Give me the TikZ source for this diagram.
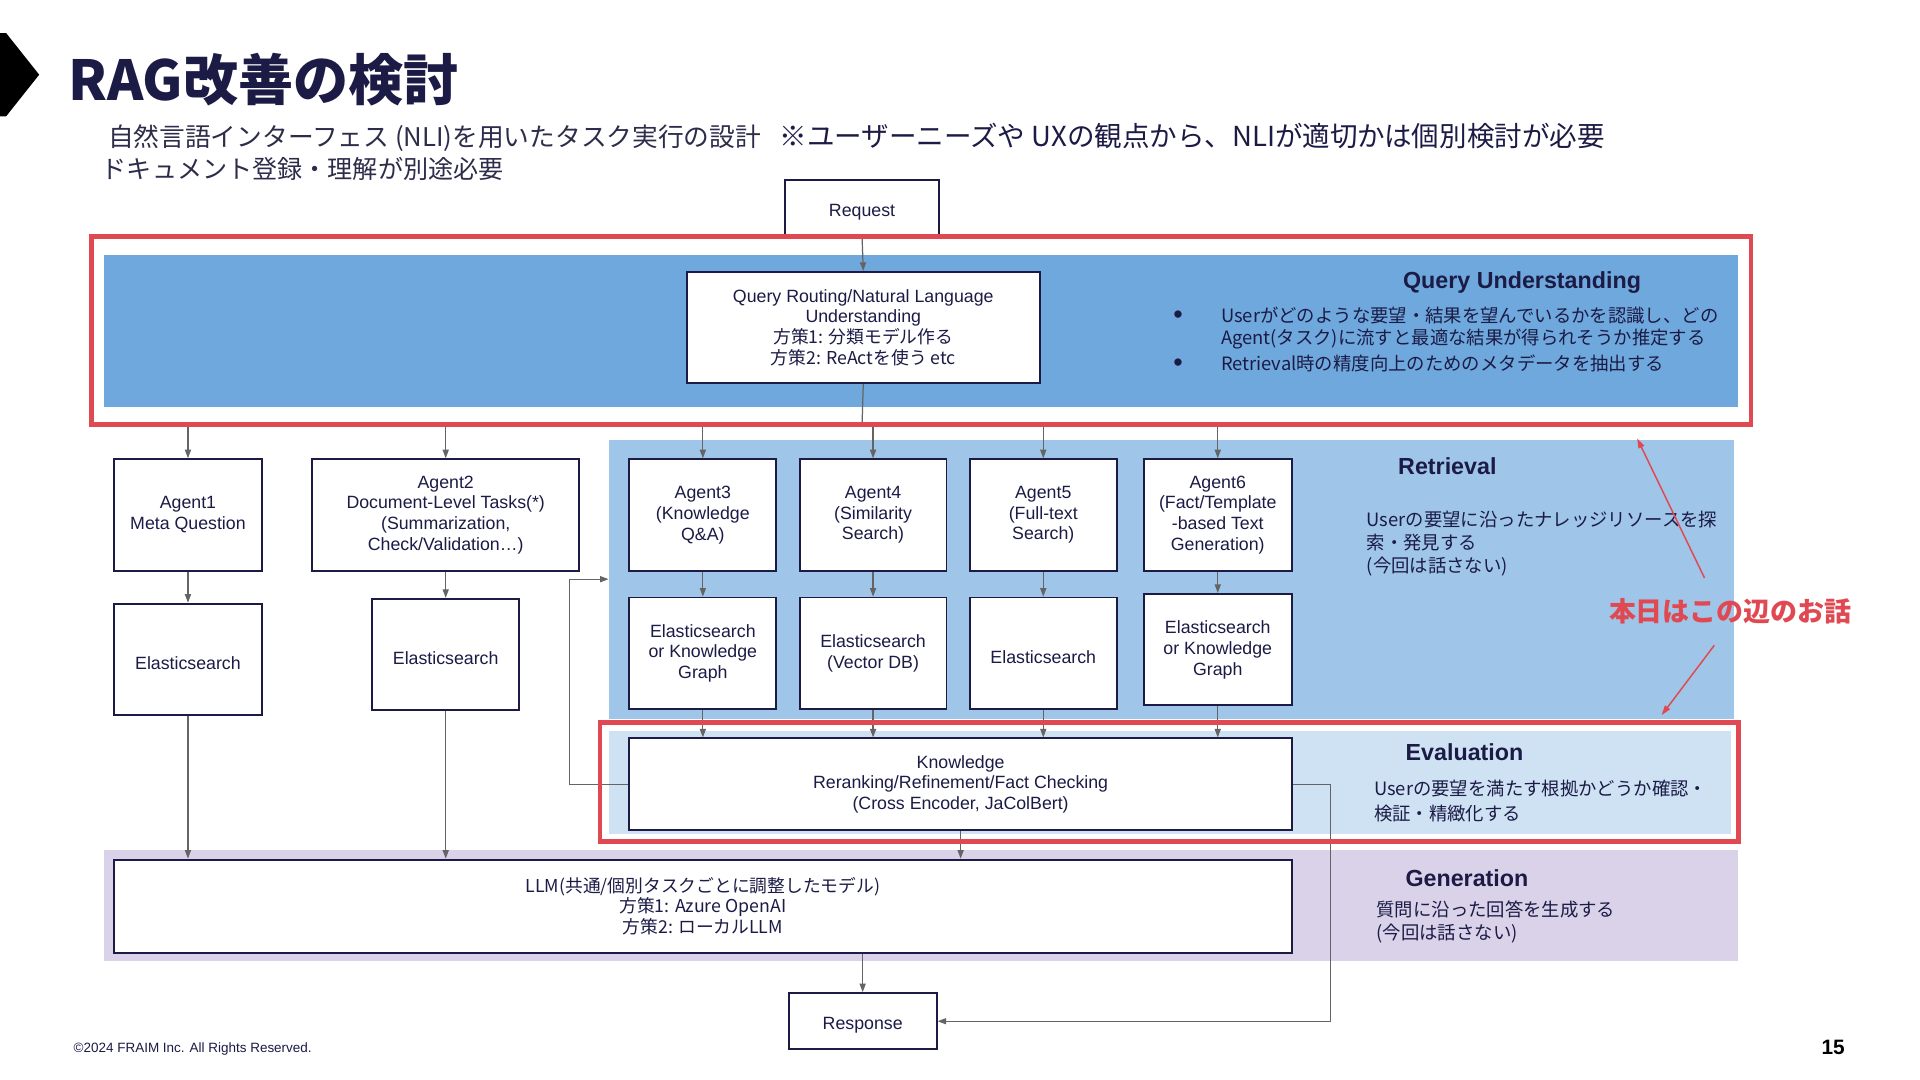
\documentclass[tikz,border=0pt]{standalone}
\usepackage{fontspec}
\setmainfont{Liberation Sans}
\newfontfamily\jp{Noto Sans CJK JP}
\usetikzlibrary{arrows.meta}
\definecolor{navy}{RGB}{27,27,70}
\definecolor{subgray}{RGB}{45,45,75}
\definecolor{redframe}{RGB}{224,73,82}
\definecolor{qublue}{RGB}{111,168,220}
\definecolor{retblue}{RGB}{159,197,232}
\definecolor{evblue}{RGB}{207,226,243}
\definecolor{genpurple}{RGB}{217,210,233}
\definecolor{arrowgray}{RGB}{100,100,100}
\newcommand\fsz[2]{\fontsize{#1}{#2}\selectfont}
\tikzset{
  box/.style={draw=navy, line width=1.5pt, fill=white, align=center, inner sep=0pt, text=navy, font=\fsz{14.5}{17}, execute at begin node={\rule{0pt}{17pt}}},
  conn/.style={draw=arrowgray, line width=1pt},
  arr/.style={conn, -{Triangle[length=7pt,width=5pt]}},
  redarr/.style={draw=redframe, line width=1.2pt, -{Triangle[length=8pt,width=5pt]}},
  redbox/.style={draw=redframe, line width=4pt},
  sect/.style={text=navy, font=\bfseries\fsz{19}{22}, inner sep=0pt},
  body/.style={text=navy, font=\jp\fsz{15}{19}, inner sep=0pt, anchor=west},
  bullet/.style={text=navy, font=\fsz{22}{24}, inner sep=0pt},
}
\begin{document}
\begin{tikzpicture}[x=1pt,y=-1pt]
\useasboundingbox[fill=white] (0,0) rectangle (1568,882);

% backgrounds
\fill[qublue] (85,208) rectangle (1419,332);
\fill[retblue] (497,359) rectangle (1416,587);
\fill[evblue] (497,597) rectangle (1414,681);
\fill[genpurple] (85,694) rectangle (1419,785);

% header
\fill[black] (0,27) -- (5,27) -- (32,61) -- (5,95) -- (0,95) -- cycle;
\node[anchor=west, inner sep=0pt, text=navy, font=\jp\bfseries\fsz{45}{50}] (title) at (56,65) {RAG改善の検討};
\node[anchor=west, inner sep=0pt, text=subgray, font=\jp\fsz{21}{25}] (sub1) at (88,112) {自然言語インターフェス (NLI)を用いたタスク実行の設計\hspace{15pt}{\color{navy}\fontsize{22.5}{25}\selectfont ※ユーザーニーズや UXの観点から、NLIが適切かは個別検討が必要}};
\node[anchor=west, inner sep=0pt, text=subgray, font=\jp\fsz{20.5}{25}] (sub2) at (83,138) {ドキュメント登録・理解が別途必要};

% boxes
\node[box, minimum width=126pt, minimum height=45pt] (req) at (704,169.5) {Request};
\node[box, minimum width=288pt, minimum height=91pt] (qr) at (705,267.5) {Query Routing/Natural Language\\Understanding\\{\jp 方策1: 分類モデル作る}\\{\jp 方策2: ReActを使う etc}};

\node[box, minimum width=121pt, minimum height=91pt] (a1) at (153.5,420.5) {Agent1\\Meta Question};
\node[box, minimum width=218pt, minimum height=91pt] (a2) at (364,420.5) {Agent2\\Document-Level Tasks(*)\\(Summarization,\\Check/Validation…)};
\node[box, minimum width=120pt, minimum height=91pt] (a3) at (574,420.5) {Agent3\\(Knowledge\\Q\&A)};
\node[box, minimum width=120pt, minimum height=91pt] (a4) at (713,420.5) {Agent4\\(Similarity\\Search)};
\node[box, minimum width=120pt, minimum height=91pt] (a5) at (852,420.5) {Agent5\\(Full-text\\Search)};
\node[box, minimum width=121pt, minimum height=91pt] (a6) at (994.5,420.5) {Agent6\\(Fact/Template\\-based Text\\Generation)};

\node[box, minimum width=121pt, minimum height=91pt] (e1) at (153.5,538.5) {Elasticsearch};
\node[box, minimum width=120pt, minimum height=91pt] (e2) at (364,534.5) {Elasticsearch};
\node[box, minimum width=120pt, minimum height=91pt] (e3) at (574,533.5) {Elasticsearch\\or Knowledge\\Graph};
\node[box, minimum width=120pt, minimum height=91pt] (e4) at (713,533.5) {Elasticsearch\\(Vector DB)};
\node[box, minimum width=120pt, minimum height=91pt] (e5) at (852,533.5) {Elasticsearch};
\node[box, minimum width=121pt, minimum height=91pt] (e6) at (994.5,530.5) {Elasticsearch\\or Knowledge\\Graph};

\node[box, minimum width=541pt, minimum height=75pt] (kn) at (784.5,640.5) {Knowledge\\Reranking/Refinement/Fact Checking\\(Cross Encoder, JaColBert)};
\node[box, minimum width=962pt, minimum height=76pt] (llm) at (574,740) {{\jp LLM(共通/個別タスクごとに調整したモデル)}\\{\jp 方策1: Azure OpenAI}\\{\jp 方策2: ローカルLLM}};
\node[box, minimum width=121pt, minimum height=46pt] (resp) at (704.5,834) {Response};

% connectors
\coordinate (bus) at (704,347);
\draw[arr] (req.south) -- (qr.north);
\draw[conn] (qr.south) -- (bus);
\draw[conn] (a1.north |- bus) -- (a6.north |- bus);
\foreach \n in {a1,a2,a3,a4,a5,a6} {\draw[arr] (\n.north |- bus) -- (\n.north);}
\foreach \n/\m in {a1/e1,a2/e2,a3/e3,a4/e4,a5/e5,a6/e6} {\draw[arr] (\n.south) -- (\m.north);}
\draw[arr] (e1.south) -- (e1.south |- llm.north);
\draw[arr] (e2.south) -- (e2.south |- llm.north);
\foreach \n in {e3,e4,e5,e6} {\draw[arr] (\n.south) -- (\n.south |- kn.north);}
\draw[arr] (kn.south) -- (kn.south |- llm.north);
\draw[arr] (resp.north |- llm.south) -- (resp.north);
\coordinate (retin) at (497,473);
\draw[arr] (kn.west) -- ++(-48,0) |- (retin);
\draw[arr] (kn.east) -- ++(31,0) |- (resp.east);

% red frames
\draw[redbox] (75,193) rectangle (1430,347);
\draw[redbox] (490,590) rectangle (1420,687);

% section texts
\node[sect] (qutitle) at (1243,231) {Query Understanding};
\node[bullet] (b1) at (962,259) {•};
\node[bullet] (b2) at (962,298) {•};
\node[body] (qu1) at (997,258) {Userがどのような要望・結果を望んでいるかを認識し、どの};
\node[body] (qu2) at (997,277) {Agent(タスク)に流すと最適な結果が得られそうか推定する};
\node[body] (qu3) at (997,297) {Retrieval時の精度向上のためのメタデータを抽出する};

\node[sect] (rettitle) at (1182,381) {Retrieval};
\node[body] (ret1) at (1116,424) {Userの要望に沿ったナレッジリソースを探};
\node[body] (ret2) at (1116,443) {索・発見する};
\node[body] (ret3) at (1116,463) {(今回は話さない)};

\node[sect] (evtitle) at (1196,614) {Evaluation};
\node[body] (ev1) at (1122,644) {Userの要望を満たす根拠かどうか確認・};
\node[body] (ev2) at (1122,664) {検証・精緻化する};

\node[sect] (gentitle) at (1198,717) {Generation};
\node[body] (gen1) at (1124,743) {質問に沿った回答を生成する};
\node[body] (gen2) at (1124,762) {(今回は話さない)};

% annotation
\node[text=redframe, font=\jp\bfseries\fsz{22}{26}, inner sep=0pt] (note) at (1413,499) {本日はこの辺のお話};
\coordinate (n1s) at (1392,472);
\coordinate (n1e) at (1337,358);
\coordinate (n2s) at (1400,527);
\coordinate (n2e) at (1357,584);
\draw[redarr] (n1s) -- (n1e);
\draw[redarr] (n2s) -- (n2e);

% footer
\node[anchor=west, inner sep=0pt, text=navy, font=\fsz{11}{13}] (foot) at (60,857) {©2024 FRAIM Inc. All Rights Reserved.};
\node[inner sep=0pt, text=black, font=\bfseries\fsz{17}{20}] (page) at (1497,855) {15};
\end{tikzpicture}
\end{document}
